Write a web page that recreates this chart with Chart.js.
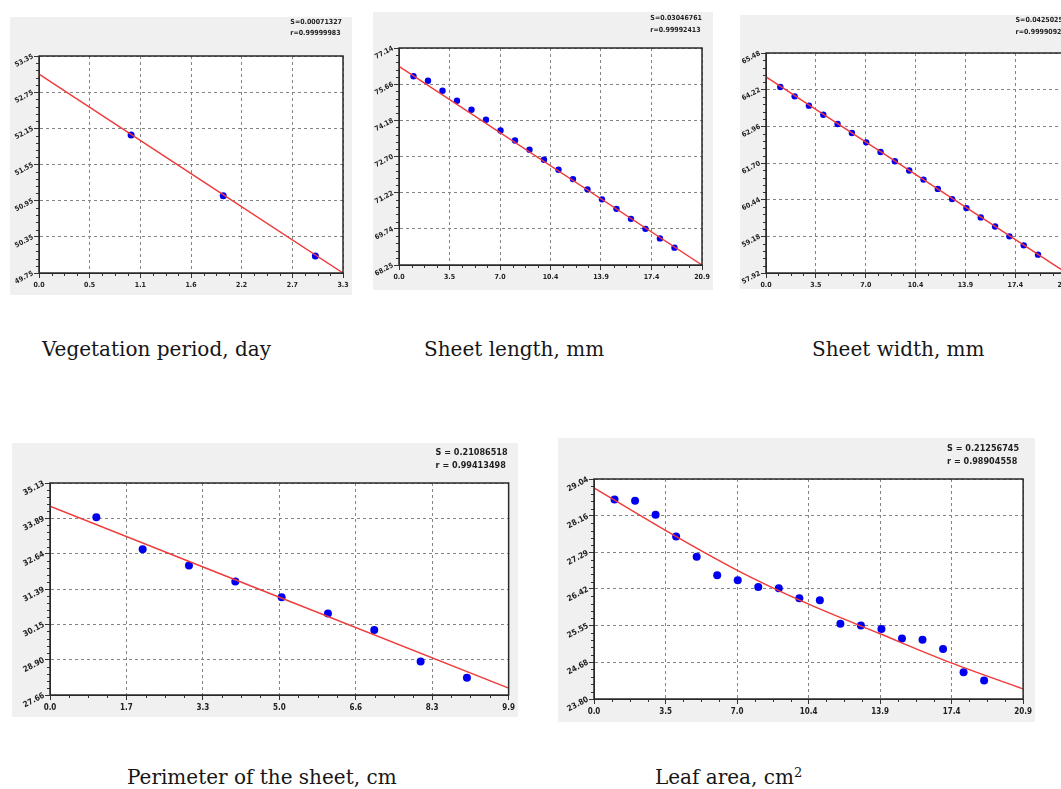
<!DOCTYPE html>
<html>
<head>
<meta charset="utf-8">
<script src="https://cdn.jsdelivr.net/npm/chart.js@4.4.1/dist/chart.umd.min.js"></script>
<style>
html, body { margin: 0; padding: 0; width: 1061px; height: 789px; overflow: hidden; background: #fff; }
canvas { position: absolute; background: #f0f0f0; }
.cap { position: absolute; font-family: 'DejaVu Serif', serif; font-stretch: normal; font-size: 20px; line-height: 22px; color: #161616; white-space: nowrap; }
.cap sup { font-size: 13px; vertical-align: 7px; line-height: 0; }
</style>
</head>
<body>
<canvas id="c1" width="342" height="278" style="left:10px;top:17px"></canvas>
<canvas id="c2" width="340" height="278" style="left:373px;top:12px"></canvas>
<canvas id="c3" width="336" height="274" style="left:740px;top:15px"></canvas>
<canvas id="c4" width="506" height="274" style="left:12px;top:443px"></canvas>
<canvas id="c5" width="477" height="284" style="left:558px;top:438px"></canvas>

<div class="cap" style="left:42px;top:338px">Vegetation period, day</div>
<div class="cap" style="left:424px;top:338px">Sheet length, mm</div>
<div class="cap" style="left:812px;top:338px">Sheet width, mm</div>
<div class="cap" style="left:127px;top:766px">Perimeter of the sheet, cm</div>
<div class="cap" style="left:655px;top:766px">Leaf area, cm<sup>2</sup></div>

<script>
// Vegetation period, day
const vegX = [1, 2, 3];
const vegY = [52.04, 51.03, 50.03];
const vegFitX = [0, 3.3];
const vegFitY = [53.05, 49.75];
const vegXTicks = [0, 0.55, 1.1, 1.65, 2.2, 2.75, 3.3];
const vegXLabels = ['0.0', '0.5', '1.1', '1.6', '2.2', '2.7', '3.3'];
const vegYTicks = [49.75, 50.35, 50.95, 51.55, 52.15, 52.75, 53.35];
const vegYLabels = ['49.75', '50.35', '50.95', '51.55', '52.15', '52.75', '53.35'];
const vegStats = ['S=0.00071327', 'r=0.99999983'];

// shared x axis of the 0..20.9 charts
const longXTicks = [0, 3.483, 6.967, 10.45, 13.933, 17.417, 20.9];
const longXLabels = ['0.0', '3.5', '7.0', '10.4', '13.9', '17.4', '20.9'];
const nineteen = [1, 2, 3, 4, 5, 6, 7, 8, 9, 10, 11, 12, 13, 14, 15, 16, 17, 18, 19];

// Sheet length, mm
const lenY = [75.98, 75.80, 75.39, 74.98, 74.61, 74.20, 73.76, 73.35, 72.97, 72.56,
              72.15, 71.77, 71.35, 70.94, 70.55, 70.14, 69.73, 69.34, 68.96];
const lenFitX = [0, 20.9];
const lenFitY = [76.39, 68.25];
const lenYTicks = [68.25, 69.73, 71.21, 72.70, 74.18, 75.66, 77.14];
const lenYLabels = ['68.25', '69.74', '71.22', '72.70', '74.18', '75.66', '77.14'];
const lenStats = ['S=0.03046761', 'r=0.99992413'];

// Sheet width, mm
const widY = [64.31, 63.99, 63.67, 63.36, 63.04, 62.73, 62.41, 62.08, 61.76, 61.44,
              61.13, 60.81, 60.46, 60.15, 59.83, 59.52, 59.18, 58.87, 58.55];
const widFitX = [0, 20.9];
const widFitY = [64.66, 57.95];
const widYTicks = [57.92, 59.18, 60.44, 61.70, 62.96, 64.22, 65.48];
const widYLabels = ['57.92', '59.18', '60.44', '61.70', '62.96', '64.22', '65.48'];
const widStats = ['S=0.04250257', 'r=0.99990921'];

// Perimeter of the sheet, cm
const perX = [1, 2, 3, 4, 5, 6, 7, 8, 9];
const perY = [33.92, 32.80, 32.22, 31.66, 31.10, 30.53, 29.95, 28.84, 28.27];
const perFitX = [0, 9.9];
const perFitY = [34.31, 27.90];
const perXTicks = [0, 1.65, 3.3, 4.95, 6.6, 8.25, 9.9];
const perXLabels = ['0.0', '1.7', '3.3', '5.0', '6.6', '8.3', '9.9'];
const perYTicks = [27.66, 28.90, 30.15, 31.39, 32.64, 33.89, 35.13];
const perYLabels = ['27.66', '28.90', '30.15', '31.39', '32.64', '33.89', '35.13'];
const perStats = ['S = 0.21086518', 'r = 0.99413498'];

// Leaf area, cm2
const areaY = [28.55, 28.52, 28.19, 27.67, 27.19, 26.75, 26.63, 26.47, 26.44, 26.20,
               26.15, 25.59, 25.55, 25.47, 25.24, 25.21, 24.99, 24.44, 24.24];
const areaFitX = [0, 3.5, 7, 10.4, 13.9, 17.4, 20.9];
const areaFitY = [28.83, 27.81, 26.86, 26.07, 25.36, 24.66, 24.04];
const areaYTicks = [23.80, 24.68, 25.55, 26.42, 27.29, 28.16, 29.04];
const areaYLabels = ['23.80', '24.68', '25.55', '26.42', '27.29', '28.16', '29.04'];
const areaStats = ['S = 0.21256745', 'r = 0.98904558'];

// white plot area, full frame, minor tick marks and the S / r note
const frame = {
    id: 'frame',
    beforeDraw(chart) {
        const {ctx, chartArea: a} = chart;
        ctx.save();
        ctx.fillStyle = '#ffffff';
        ctx.fillRect(a.left, a.top, a.width, a.height);
        ctx.restore();
    },
    afterDraw(chart, args, opts) {
        const {ctx, chartArea: a, scales} = chart;
        const xs = scales.x, ys = scales.y;
        ctx.save();
        ctx.strokeStyle = '#333';
        ctx.lineWidth = 1;
        ctx.beginPath();
        const xt = xs.ticks.map(t => t.value);
        for (let i = 0; i < xt.length - 1; i++) {
            for (let k = 1; k < 4; k++) {
                const px = Math.round(xs.getPixelForValue(xt[i] + (xt[i + 1] - xt[i]) * k / 4)) + 0.5;
                ctx.moveTo(px, a.bottom);
                ctx.lineTo(px, a.bottom + 3);
            }
        }
        const yt = ys.ticks.map(t => t.value);
        for (let i = 0; i < yt.length - 1; i++) {
            for (let k = 1; k < 5; k++) {
                const py = Math.round(ys.getPixelForValue(yt[i] + (yt[i + 1] - yt[i]) * k / 5)) + 0.5;
                ctx.moveTo(a.left, py);
                ctx.lineTo(a.left - 3, py);
            }
        }
        ctx.stroke();

        ctx.strokeStyle = '#2a2a2a';
        ctx.lineWidth = 1.5;
        ctx.strokeRect(a.left, a.top, a.width, a.height);

        ctx.fillStyle = '#222';
        ctx.font = opts.font;
        ctx.textBaseline = 'middle';
        const w = Math.max(...opts.lines.map(s => ctx.measureText(s).width));
        const x0 = a.right + opts.dx - w;
        opts.lines.forEach((s, i) => ctx.fillText(s, x0, a.top + opts.dy[i]));
        ctx.restore();
    }
};

function axis(vals, labels, dir, size, fontSize) {
    return {
        type: 'linear',
        min: vals[0],
        max: vals[vals.length - 1],
        afterBuildTicks: s => { s.ticks = vals.map(v => ({value: v})); },
        afterFit: s => { if (dir === 'x') s.height = size; else s.width = size; },
        ticks: {
            callback: (v, i) => labels[i],
            autoSkip: false,
            color: '#222',
            padding: dir === 'x' ? 3 : 1,
            minRotation: dir === 'y' ? 28 : 0,
            maxRotation: dir === 'y' ? 28 : 0,
            font: {family: "'DejaVu Sans Condensed', 'DejaVu Sans', sans-serif", size: fontSize, weight: 'bold'}
        },
        grid: {color: '#858585', lineWidth: 1, tickLength: 5, tickColor: '#333', tickWidth: 1, tickBorderDash: []},
        border: {display: true, color: '#2a2a2a', width: 1, dash: [3, 3]}
    };
}

function makeChart(id, p) {
    const pts = p.x.map((v, i) => ({x: v, y: p.y[i]}));
    const fit = p.fitX.map((v, i) => ({x: v, y: p.fitY[i]}));
    new Chart(document.getElementById(id), {
        type: 'scatter',
        data: {
            datasets: [
                {type: 'line', data: fit, borderColor: 'rgb(238,58,58)', borderWidth: 1.4,
                 pointRadius: 0, cubicInterpolationMode: 'monotone', order: 0},
                {data: pts, backgroundColor: '#0000f0', borderWidth: 0, pointRadius: p.r,
                 pointHoverRadius: p.r, order: 1}
            ]
        },
        options: {
            responsive: false,
            animation: false,
            events: [],
            layout: {padding: {top: p.pad[0], right: p.pad[1], bottom: 0, left: 0}},
            plugins: {
                legend: {display: false},
                tooltip: {enabled: false},
                frame: {lines: p.stats, font: p.statFont, dx: p.statDx, dy: p.statDy}
            },
            scales: {
                x: axis(p.xTicks, p.xLabels, 'x', p.xh, p.fs),
                y: axis(p.yTicks, p.yLabels, 'y', p.yw, p.fs)
            }
        },
        plugins: [frame]
    });
}

const smallStat = "bold 7px 'DejaVu Sans Condensed', 'DejaVu Sans', sans-serif";
const bigStat = "bold 9px 'DejaVu Sans Condensed', 'DejaVu Sans', sans-serif";

makeChart('c1', {x: vegX, y: vegY, fitX: vegFitX, fitY: vegFitY, xTicks: vegXTicks, xLabels: vegXLabels,
    yTicks: vegYTicks, yLabels: vegYLabels, stats: vegStats, r: 3.5,
    pad: [39, 9], yw: 29, xh: 22, fs: 7, statFont: smallStat, statDx: -1, statDy: [-34, -23]});
makeChart('c2', {x: nineteen, y: lenY, fitX: lenFitX, fitY: lenFitY, xTicks: longXTicks, xLabels: longXLabels,
    yTicks: lenYTicks, yLabels: lenYLabels, stats: lenStats, r: 3.2,
    pad: [36, 11], yw: 26, xh: 25, fs: 7, statFont: smallStat, statDx: 0, statDy: [-30, -18]});
makeChart('c3', {x: nineteen, y: widY, fitX: widFitX, fitY: widFitY, xTicks: longXTicks, xLabels: longXLabels,
    yTicks: widYTicks, yLabels: widYLabels, stats: widStats, r: 3.2,
    pad: [38, 10], yw: 26, xh: 16, fs: 7, statFont: smallStat, statDx: 2, statDy: [-33, -21]});
makeChart('c4', {x: perX, y: perY, fitX: perFitX, fitY: perFitY, xTicks: perXTicks, xLabels: perXLabels,
    yTicks: perYTicks, yLabels: perYLabels, stats: perStats, r: 4,
    pad: [40, 6], yw: 38, xh: 22, fs: 8, statFont: bigStat, statDx: -1, statDy: [-30, -17]});
makeChart('c5', {x: nineteen, y: areaY, fitX: areaFitX, fitY: areaFitY, xTicks: longXTicks, xLabels: longXLabels,
    yTicks: areaYTicks, yLabels: areaYLabels, stats: areaStats, r: 4,
    pad: [41, 11], yw: 36, xh: 23, fs: 8, statFont: bigStat, statDx: -4, statDy: [-30, -17]});
</script>
</body>
</html>
